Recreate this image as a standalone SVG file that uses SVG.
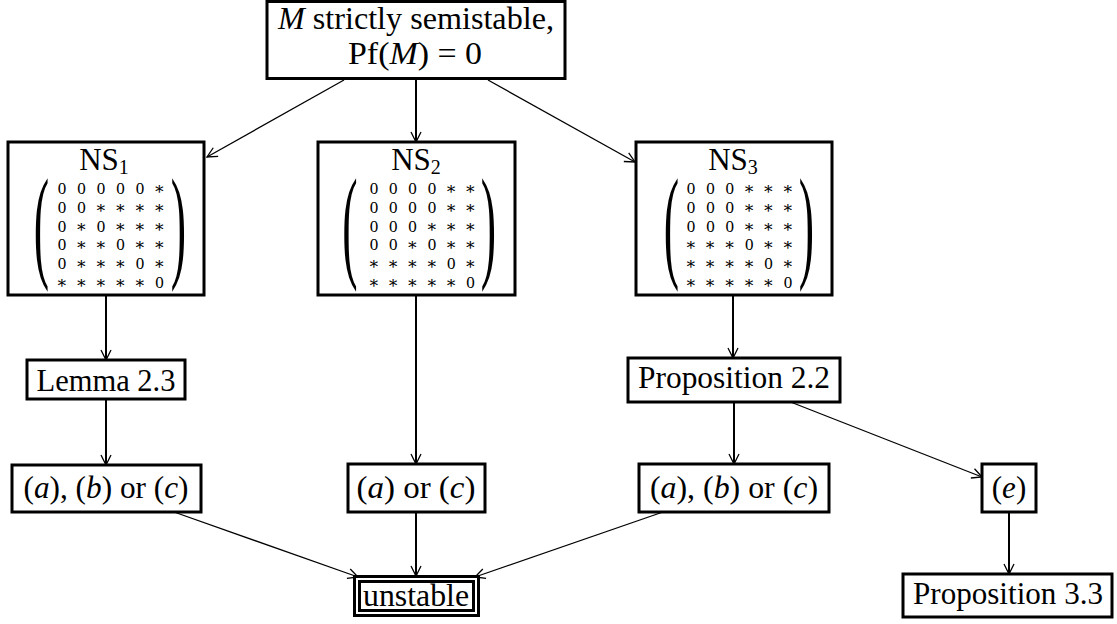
<svg xmlns="http://www.w3.org/2000/svg" width="1117" height="624" viewBox="0 0 1117 624">
<defs>
<style>
.box{fill:#fff;stroke:#000;stroke-width:3}
.t{font-family:"Liberation Serif","DejaVu Serif",serif;font-size:31px;text-anchor:middle;fill:#000}
.m{font-family:"Liberation Serif","DejaVu Serif",serif;font-size:17px;text-anchor:middle;fill:#000}
.p{font-family:"Liberation Serif","DejaVu Serif",serif;font-size:46px;text-anchor:middle;fill:#000}
.i{font-style:italic}
.v{stroke:#000;stroke-width:2;fill:none}
.d{stroke:#000;stroke-width:1.3;fill:none}
</style>
<marker id="ah" markerWidth="14" markerHeight="14" refX="0" refY="0" viewBox="-12 -7 14 14" orient="auto" markerUnits="userSpaceOnUse">
<path d="M-10,-5 Q-3,-1.5 0,0 Q-3,1.5 -10,5" fill="none" stroke="#000" stroke-width="1.3"/>
</marker>
</defs>
<rect width="1117" height="624" fill="#fff"/>

<g id="connectors">
<line class="d" x1="344" y1="80" x2="207" y2="157" marker-end="url(#ah)"/>
<line class="v" x1="416" y1="80" x2="416" y2="142" marker-end="url(#ah)"/>
<line class="d" x1="488" y1="80" x2="635" y2="162" marker-end="url(#ah)"/>
<line class="v" x1="106" y1="295" x2="106" y2="360" marker-end="url(#ah)"/>
<line class="v" x1="106" y1="399" x2="106" y2="465" marker-end="url(#ah)"/>
<line class="v" x1="416" y1="295" x2="416" y2="464" marker-end="url(#ah)"/>
<line class="v" x1="416" y1="512" x2="416" y2="576" marker-end="url(#ah)"/>
<line class="d" x1="174" y1="512" x2="358" y2="577" marker-end="url(#ah)"/>
<line class="d" x1="663" y1="512" x2="475" y2="577" marker-end="url(#ah)"/>
<line class="v" x1="733" y1="295" x2="733" y2="358" marker-end="url(#ah)"/>
<line class="v" x1="734" y1="402" x2="734" y2="464" marker-end="url(#ah)"/>
<line class="d" x1="788" y1="401" x2="982" y2="477" marker-end="url(#ah)"/>
<line class="v" x1="1009" y1="512" x2="1009" y2="574" marker-end="url(#ah)"/>
</g>

<g id="top">
<rect class="box" x="267" y="1.5" width="298" height="77"/>
<text class="t" x="416" y="29" textLength="276" lengthAdjust="spacingAndGlyphs"><tspan class="i">M</tspan> strictly semistable,</text>
<text class="t" x="415" y="64" textLength="134" lengthAdjust="spacingAndGlyphs">Pf(<tspan class="i">M</tspan>) = 0</text>
</g>

<g id="ns1">
<rect class="box" x="8" y="142" width="196" height="153"/>
<text class="t" x="104" y="170">NS<tspan font-size="20" dy="4">1</tspan></text>
<text class="p" transform="translate(41.5,265) scale(1,2.73)">(</text>
<text class="p" transform="translate(178.5,265) scale(1,2.73)">)</text>
<text class="m"><tspan x="62 81.5 101 120.5 140 159.5" y="194">00000∗</tspan><tspan x="62 81.5 101 120.5 140 159.5" y="212.8">00∗∗∗∗</tspan><tspan x="62 81.5 101 120.5 140 159.5" y="231.6">0∗0∗∗∗</tspan><tspan x="62 81.5 101 120.5 140 159.5" y="250.4">0∗∗0∗∗</tspan><tspan x="62 81.5 101 120.5 140 159.5" y="269.2">0∗∗∗0∗</tspan><tspan x="62 81.5 101 120.5 140 159.5" y="288">∗∗∗∗∗0</tspan></text>
</g>

<g id="ns2">
<rect class="box" x="318" y="142" width="197" height="153"/>
<text class="t" x="416" y="170">NS<tspan font-size="20" dy="4">2</tspan></text>
<text class="p" transform="translate(350,265) scale(1,2.73)">(</text>
<text class="p" transform="translate(488.5,265) scale(1,2.73)">)</text>
<text class="m"><tspan x="374 393.3 412.6 432 451.3 470.6" y="194">0000∗∗</tspan><tspan x="374 393.3 412.6 432 451.3 470.6" y="212.8">0000∗∗</tspan><tspan x="374 393.3 412.6 432 451.3 470.6" y="231.6">000∗∗∗</tspan><tspan x="374 393.3 412.6 432 451.3 470.6" y="250.4">00∗0∗∗</tspan><tspan x="374 393.3 412.6 432 451.3 470.6" y="269.2">∗∗∗∗0∗</tspan><tspan x="374 393.3 412.6 432 451.3 470.6" y="288">∗∗∗∗∗0</tspan></text>
</g>

<g id="ns3">
<rect class="box" x="636" y="142" width="196" height="153"/>
<text class="t" x="733" y="170">NS<tspan font-size="20" dy="4">3</tspan></text>
<text class="p" transform="translate(671.5,265) scale(1,2.73)">(</text>
<text class="p" transform="translate(806.5,265) scale(1,2.73)">)</text>
<text class="m"><tspan x="691 710.4 729.8 749.2 768.6 788" y="194">000∗∗∗</tspan><tspan x="691 710.4 729.8 749.2 768.6 788" y="212.8">000∗∗∗</tspan><tspan x="691 710.4 729.8 749.2 768.6 788" y="231.6">000∗∗∗</tspan><tspan x="691 710.4 729.8 749.2 768.6 788" y="250.4">∗∗∗0∗∗</tspan><tspan x="691 710.4 729.8 749.2 768.6 788" y="269.2">∗∗∗∗0∗</tspan><tspan x="691 710.4 729.8 749.2 768.6 788" y="288">∗∗∗∗∗0</tspan></text>
</g>

<g id="lemma23">
<rect class="box" x="27" y="360" width="158" height="39"/>
<text class="t" x="106" y="391" textLength="139" lengthAdjust="spacingAndGlyphs">Lemma 2.3</text>
</g>

<g id="prop22">
<rect class="box" x="628" y="358" width="212" height="44"/>
<text class="t" x="734" y="388" textLength="192" lengthAdjust="spacingAndGlyphs">Proposition 2.2</text>
</g>

<g id="abc-left">
<rect class="box" x="12" y="465" width="189" height="47"/>
<text class="t" x="106" y="498" textLength="165" lengthAdjust="spacingAndGlyphs">(<tspan class="i">a</tspan>), (<tspan class="i">b</tspan>) or (<tspan class="i">c</tspan>)</text>
</g>

<g id="ac-mid">
<rect class="box" x="348" y="464" width="137" height="48"/>
<text class="t" x="416" y="498" textLength="119" lengthAdjust="spacingAndGlyphs">(<tspan class="i">a</tspan>) or (<tspan class="i">c</tspan>)</text>
</g>

<g id="abc-right">
<rect class="box" x="639" y="464" width="190" height="48"/>
<text class="t" x="734" y="498" textLength="168" lengthAdjust="spacingAndGlyphs">(<tspan class="i">a</tspan>), (<tspan class="i">b</tspan>) or (<tspan class="i">c</tspan>)</text>
</g>

<g id="e">
<rect class="box" x="982" y="464" width="54" height="48"/>
<text class="t" x="1009" y="498">(<tspan class="i">e</tspan>)</text>
</g>

<g id="unstable">
<rect class="box" x="354.5" y="576.5" width="124" height="39" stroke-width="2"/>
<rect class="box" x="359.5" y="581.5" width="114" height="29" stroke-width="2.5"/>
<text class="t" x="416" y="606" textLength="106" lengthAdjust="spacingAndGlyphs">unstable</text>
</g>

<g id="prop33">
<rect class="box" x="903" y="574" width="209" height="43"/>
<text class="t" x="1008" y="604" textLength="190" lengthAdjust="spacingAndGlyphs">Proposition 3.3</text>
</g>
</svg>
